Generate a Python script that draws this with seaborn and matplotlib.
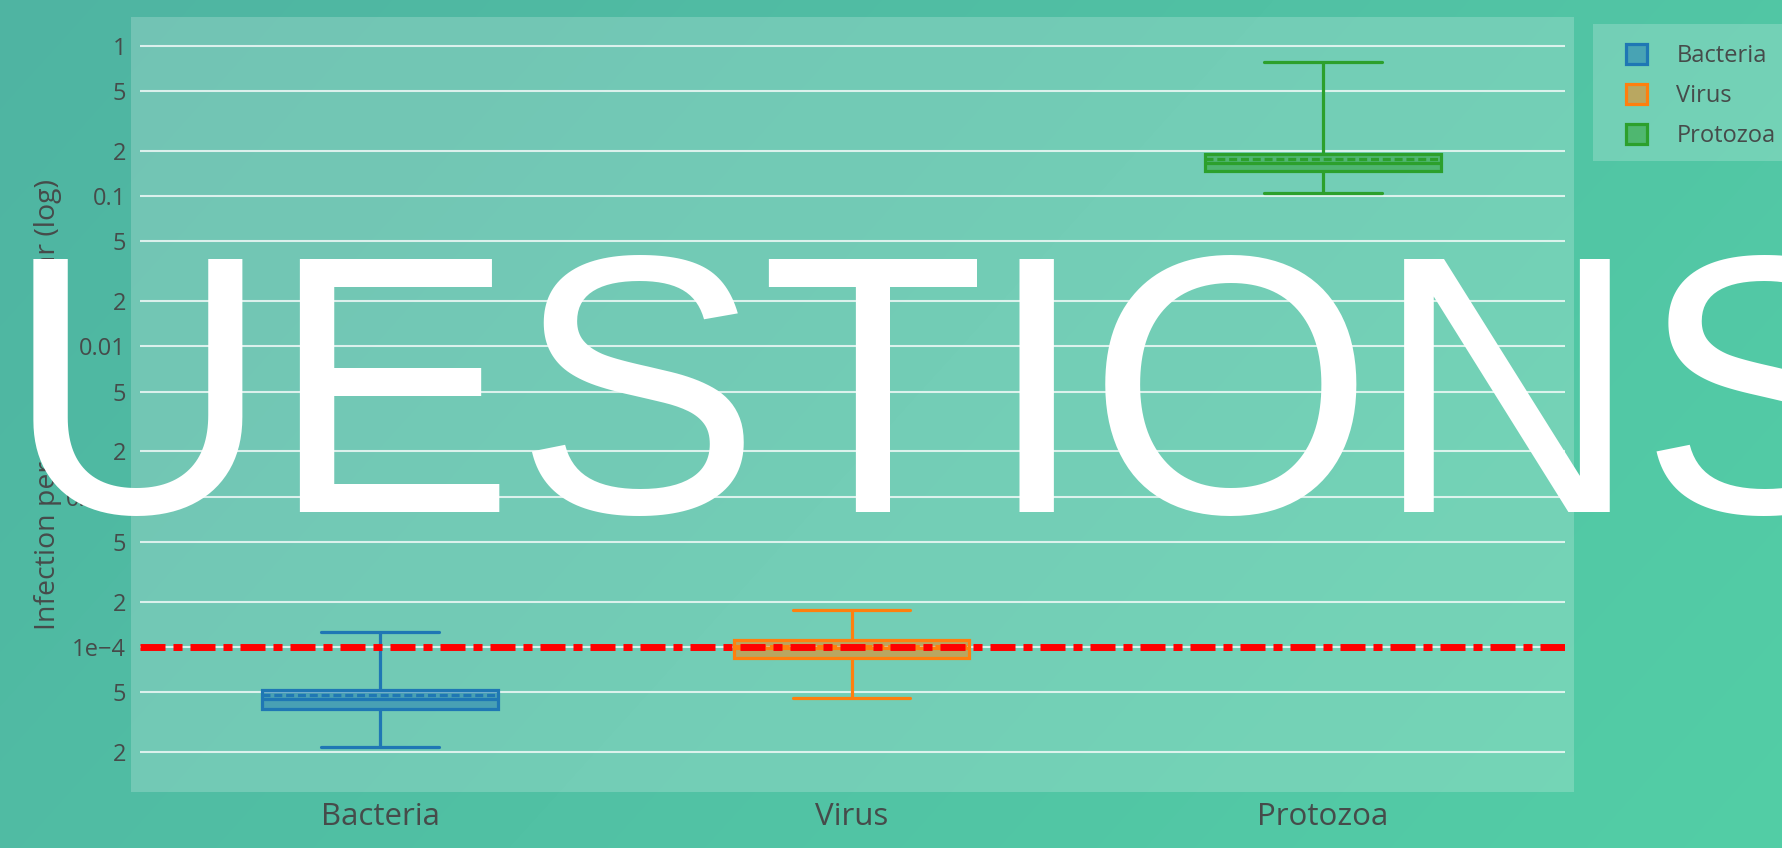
import numpy as np
import pandas as pd
import matplotlib
matplotlib.use("Agg")
import matplotlib.pyplot as plt
from matplotlib.patches import Rectangle, Patch
from matplotlib.colors import to_rgba
from matplotlib.ticker import NullLocator
import seaborn as sns

# ---- data -------------------------------------------------------------
categories = ["Bacteria", "Virus", "Protozoa"]
colors = ["#1f77b4", "#ff7f0e", "#2ca02c"]
# five-number summaries: lower whisker, q1, median, q3, upper whisker
bacteria = [2.17e-5, 3.85e-5, 4.5e-5, 5.18e-5, 1.25e-4]
virus = [4.6e-5, 8.4e-5, 9.8e-5, 1.12e-4, 1.75e-4]
protozoa = [0.104, 0.147, 0.166, 0.190, 0.78]
means = [4.8e-5, 1.02e-4, 0.177]
threshold = 1e-4
ytick_values = [1, 0.5, 0.2, 0.1, 0.05, 0.02, 0.01, 0.005, 0.002, 0.001,
                5e-4, 2e-4, 1e-4, 5e-5, 2e-5]
ytick_labels = ["1", "5", "2", "0.1", "5", "2", "0.01", "5", "2", "0.001",
                "5", "2", "1e\u22124", "5", "2"]
y_title = "Infection per person per year (log)"
overlay = "UESTIONS"

# ---- figure -----------------------------------------------------------
W, H = 1783, 848
sns.set_theme(style="white")
plt.rcParams["font.family"] = ["Open Sans", "DejaVu Sans"]
text_color = "#464b4a"

fig = plt.figure(figsize=(W / 100, H / 100), dpi=100)


def fx(px):
    return px / W


def fy(px):
    return 1 - px / H


# teal gradient backdrop
xx = np.linspace(0, 1, W)[None, :]
yy = np.linspace(0, 1, H)[:, None]
t = 0.7 * xx + 0.3 * yy
c0 = np.array([79, 180, 162]) / 255
c1 = np.array([83, 206, 166]) / 255
grad = c0 + (c1 - c0) * t[..., None]
fig.figimage(grad, xo=0, yo=0, origin="upper", zorder=-2)

# translucent plot and legend panels
fig.add_artist(Rectangle((fx(131), fy(792)), (1574 - 131) / W, (792 - 17) / H,
                         transform=fig.transFigure, facecolor=(1, 1, 1, 0.2),
                         edgecolor="none", zorder=-1))
fig.add_artist(Rectangle((fx(1593), fy(161)), (1800 - 1593) / W, (161 - 24) / H,
                         transform=fig.transFigure, facecolor=(1, 1, 1, 0.2),
                         edgecolor="none", zorder=-1))

ax = fig.add_axes([fx(140), fy(792), (1565 - 140) / W, (792 - 17) / H])
ax.set_facecolor("none")

series = [bacteria, virus, protozoa]
for cat, vals, col in zip(categories, series, colors):
    sns.boxplot(x=[cat] * len(vals), y=vals, order=categories, color=col,
                linecolor=col, width=0.5, whis=np.inf, log_scale=True,
                linewidth=2.3, fliersize=0, ax=ax,
                boxprops=dict(facecolor=to_rgba(col, 0.5)), zorder=3)

# dashed mean markers inside each box
for i, (m, col) in enumerate(zip(means, colors)):
    ax.hlines(m, i - 0.25, i + 0.25, colors=col, linewidth=2.3,
              linestyles=(0, (2.5, 1.2)), zorder=4)

# reference threshold
ax.axhline(threshold, color="#ff0000", linewidth=5,
           linestyle=(0, (3.6, 1.15, 1.3, 1.15)), zorder=5)

ax.set_ylim(10 ** -4.964, 10 ** 0.19)
ax.set_xlim(-0.509, 2.513)
ax.set_yticks(ytick_values, ytick_labels)
ax.yaxis.set_minor_locator(NullLocator())
ax.tick_params(axis="y", length=0, pad=10, labelsize=17, labelcolor=text_color)
ax.tick_params(axis="x", length=0, pad=7, labelsize=22.5, labelcolor=text_color)
ax.grid(axis="y", color="white", alpha=0.75, linewidth=1.5)
ax.grid(axis="x", visible=False)
ax.set_axisbelow(True)
for s in ax.spines.values():
    s.set_visible(False)
ax.set_xlabel("")
ax.set_ylabel(y_title, fontsize=20.5, color=text_color)
ax.yaxis.set_label_coords((62 - 140) / 1425, 0.5)

handles = [Patch(facecolor=to_rgba(c, 0.5), edgecolor=c, linewidth=2.3, label=cat)
           for cat, c in zip(categories, colors)]
fig.legend(handles=handles, loc="upper left", bbox_to_anchor=(fx(1626), fy(44)),
           frameon=False, borderpad=0, borderaxespad=0, handlelength=0.9,
           handleheight=0.95, handletextpad=1.23, labelspacing=0.66,
           fontsize=17, labelcolor=text_color)

fig.text(fx(5), fy(512), overlay, fontsize=265, color="white",
         family="Liberation Sans", va="baseline", ha="left", zorder=10)

fig.savefig("out.png", dpi=100)
